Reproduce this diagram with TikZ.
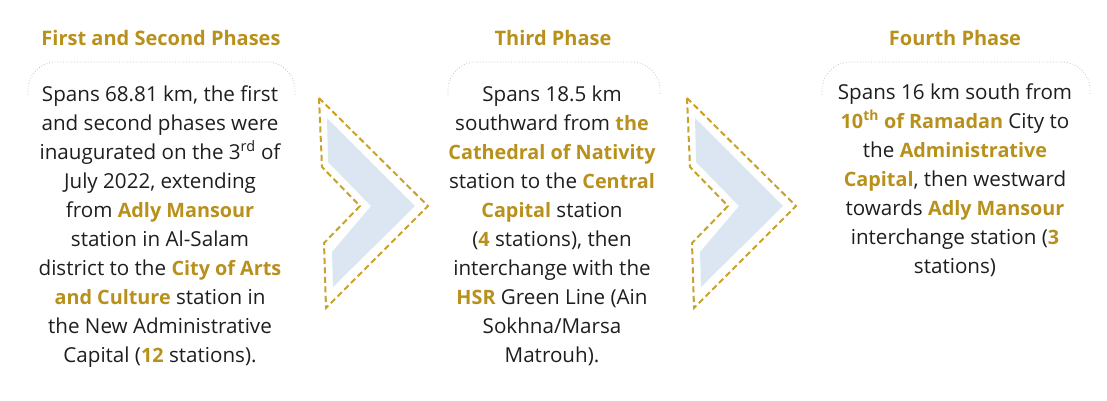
\documentclass[tikz,border=0pt]{standalone}
\usepackage{fontspec}
\setmainfont{Open Sans}
\definecolor{gold}{HTML}{B8901C}
\definecolor{dashgold}{HTML}{C9A12B}
\definecolor{ink}{HTML}{1E1E1E}
\definecolor{framegray}{HTML}{C4C4C4}
\definecolor{chevblue}{HTML}{DCE6F2}
\newcommand\gld[1]{{\fontsize{19.8}{29.1}\selectfont\bfseries\color{gold}#1}}
\tikzset{
  title/.style={anchor=base, inner sep=0pt, text=gold, font=\bfseries\fontsize{20}{22}\selectfont},
  body/.style={anchor=base, inner sep=0pt, text=ink, font=\fontsize{20.6}{29.1}\selectfont},
  frameline/.style={draw=framegray, line width=0.8pt, dotted, rounded corners=28pt},
  chevfill/.style={fill=chevblue, draw=none},
  chevline/.style={draw=dashgold, line width=2pt, dash pattern=on 6pt off 3.5pt, line join=miter},
}
\begin{document}
\begin{tikzpicture}[x=1pt,y=-1pt]
\useasboundingbox (0,0) rectangle (1107,400);

% titles
\node[title] (h1) at (161,45) {First and Second Phases};
\node[title] (h2) at (553,45) {Third Phase};
\node[title] (h3) at (955,45) {Fourth Phase};

% frames
\draw[frameline] (28,95) -- (28,62) -- (295,62) -- (295,95);
\draw[frameline] (448,95) -- (448,62) -- (660,62) -- (660,95);
\draw[frameline] (822,95) -- (822,62) -- (1090,62) -- (1090,95);

% chevrons
\foreach \dx/\nm in {0/c1,368/c2}{
  \begin{scope}[xshift=\dx]
    \fill[chevfill] (327,118) -- (328,162) -- (371,206) -- (332,252) -- (333,287) -- (415,206) -- cycle;
    \draw[chevline] (319,98) -- (322,167) -- (360,206) -- (324,243) -- (326,308) -- (428,206) -- cycle;
  \end{scope}
}

% texts
\node[body] (t1) at (160,101) {\parbox[t]{300pt}{\centering
Spans 68.81 km, the first\\
and second phases were\\
inaugurated on the 3\textsuperscript{rd} of\\
July 2022, extending\\
from \gld{Adly Mansour}\\
station in Al-Salam\\
district to the \gld{City of Arts}\\
\gld{and Culture} station in\\
the New Administrative\\
Capital (\gld{12} stations).}};

\node[body] (t2) at (552,101) {\parbox[t]{300pt}{\centering
Spans 18.5 km\\
southward from \gld{the}\\
\gld{Cathedral of Nativity}\\
station to the \gld{Central}\\
\gld{Capital} station\\
(\gld{4} stations), then\\
interchange with the\\
\gld{HSR} Green Line (Ain\\
Sokhna/Marsa\\
Matrouh).}};

\node[body] (t3) at (955,99) {\parbox[t]{300pt}{\centering
Spans 16 km south from\\
\gld{10\textsuperscript{th} of Ramadan} City to\\
the \gld{Administrative}\\
\gld{Capital}, then westward\\
towards \gld{Adly Mansour}\\
interchange station (\gld{3}\\
stations)}};
\end{tikzpicture}
\end{document}
